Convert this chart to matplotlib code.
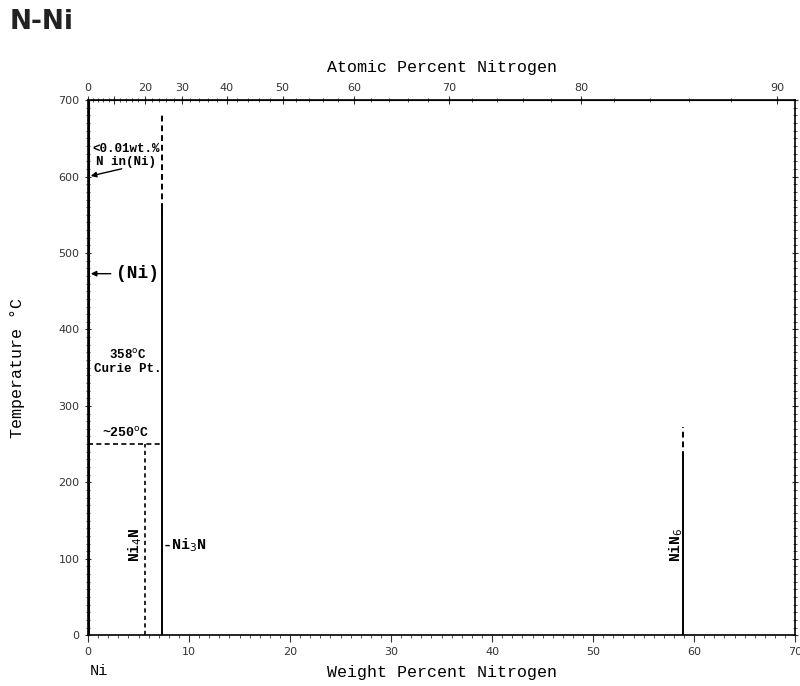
import numpy as np
import matplotlib.pyplot as plt
from matplotlib.ticker import MultipleLocator

# atomic masses
M_N = 14.007
M_NI = 58.69

# phase lines (wt% N, temperature C)
ni3n_wt = 7.37
ni3n_solid = [0, 558]
ni3n_dash = [558, 680]
ni4n_wt = 5.63
ni4n_dot = [0, 250]
eutectoid_T = 250
nin6_wt = 58.9
nin6_solid = [0, 233]
nin6_dash = [233, 272]
ni_sol = [0, 700]

at_ticks = [0, 10, 20, 30, 40, 50, 60, 70, 80, 90]
at_labels = ['0', '', '20', '30', '40', '50', '60', '70', '80', '90']


def wt2at(w):
    w = np.clip(np.asarray(w, dtype=float), 1e-9, 100 - 1e-9)
    n = w / M_N
    return 100 * n / (n + (100 - w) / M_NI)


def at2wt(a):
    a = np.clip(np.asarray(a, dtype=float), 1e-9, 100 - 1e-9)
    x = a / 100
    return 100 * x * M_N / (x * M_N + (1 - x) * M_NI)


serif = 'Liberation Mono'

fig = plt.figure(figsize=(8, 6.86), dpi=100)
ax = fig.add_axes([0.11, 0.074, 0.884, 0.78])

ax.plot([0, 0], ni_sol, color='k', lw=2.2)
ax.plot([ni3n_wt] * 2, ni3n_solid, color='k', lw=1.4)
ax.plot([ni3n_wt] * 2, ni3n_dash, color='k', lw=1.4, ls=(0, (3, 2)))
ax.plot([ni4n_wt] * 2, ni4n_dot, color='k', lw=1.2, ls=(0, (2.5, 2)))
ax.plot([0, ni3n_wt], [eutectoid_T] * 2, color='k', lw=1.2, ls=(0, (3, 2)))
ax.plot([nin6_wt] * 2, nin6_solid, color='k', lw=1.4)
ax.plot([nin6_wt] * 2, nin6_dash, color='k', lw=1.4, ls=(0, (3, 2)))

ax.set_xlim(0, 70)
ax.set_ylim(0, 700)
ax.xaxis.set_major_locator(MultipleLocator(10))
ax.xaxis.set_minor_locator(MultipleLocator(1))
ax.yaxis.set_major_locator(MultipleLocator(100))
ax.yaxis.set_minor_locator(MultipleLocator(10))
ax.tick_params(which='both', direction='out', labelsize=8, colors='#333333')
ax.tick_params(which='major', length=5)
ax.tick_params(which='minor', length=2.5)
ax.tick_params(axis='y', which='both', right=True, direction='inout')

ax.set_xlabel('Weight Percent Nitrogen', family=serif, fontsize=12, labelpad=6)
ax.set_ylabel('Temperature \u00b0C', family=serif, fontsize=12, labelpad=24)

sec = ax.secondary_xaxis('top', functions=(wt2at, at2wt))
sec.set_xticks(at_ticks)
sec.set_xticklabels(at_labels)
sec.set_xticks([v for v in np.arange(2, 92, 2) if v % 10], minor=True)
sec.tick_params(which='both', direction='inout', labelsize=8, colors='#333333')
sec.tick_params(which='major', length=6, pad=2)
sec.tick_params(which='minor', length=3)
sec.set_xlabel('Atomic Percent Nitrogen', family=serif, fontsize=12, labelpad=8)

for s in ax.spines.values():
    s.set_linewidth(1.2)

# annotations
ax.text(3.75, 628, '<0.01wt.%\nN in(Ni)', family=serif, fontsize=9,
        fontweight='bold', ha='center', va='center', linespacing=1.1)
ax.annotate('', xy=(0, 600), xytext=(3.6, 611),
            arrowprops=dict(arrowstyle='-|>', color='k', lw=1, mutation_scale=8))
ax.annotate('(Ni)', xy=(0, 473), xytext=(2.8, 473), family=serif, fontsize=13,
            fontweight='bold', va='center',
            arrowprops=dict(arrowstyle='-|>', color='k', lw=1, mutation_scale=8))
ax.text(3.95, 358, '358$^{\\rm o}$C\nCurie Pt.', family=serif, fontsize=9,
        fontweight='bold', ha='center', va='center', linespacing=1.1)
ax.text(3.75, 256, '~250$^{\\rm o}$C', family=serif, fontsize=9.5,
        fontweight='bold', ha='center', va='bottom')
ax.text(4.7, 118, 'Ni$_4$N', family=serif, fontsize=10.5, fontweight='bold',
        rotation=90, ha='center', va='center')
ax.text(ni3n_wt, 118, '-Ni$_3$N', family=serif, fontsize=11, fontweight='bold',
        ha='left', va='center')
ax.text(nin6_wt - 0.65, 118, 'NiN$_6$', family=serif, fontsize=10.5, fontweight='bold',
        rotation=90, ha='center', va='center')

fig.text(0.012, 0.968, 'N-Ni', fontsize=19, fontweight='bold', ha='left', va='center',
         color='#222222')
fig.text(0.112, 0.022, 'Ni', family=serif, fontsize=11, ha='left', va='center')

fig.savefig('out.png', dpi=100)
